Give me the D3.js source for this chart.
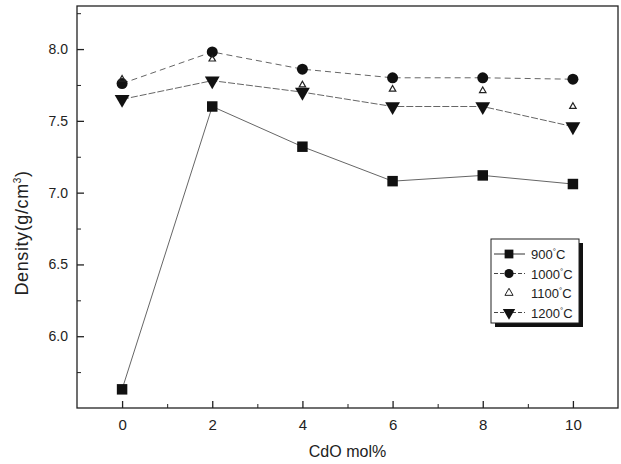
<!DOCTYPE html>
<html lang="en">
<head>
<meta charset="UTF-8">
<title>Density vs CdO mol%</title>
<style>
    body { margin: 0; padding: 0; background: #fff; }
    svg { display: block; }
    text { font-family: Arial, "Liberation Sans", sans-serif; fill: #222; }
</style>
</head>
<body>
<svg width="621" height="464"></svg>
<script src="https://d3js.org/d3.v7.min.js"></script>
<script>
    // CdO content (mol%)
    const cdo = [0, 2, 4, 6, 8, 10];

    // density values per sintering temperature (g/cm3)
    const d900 = [5.63, 7.60, 7.32, 7.08, 7.12, 7.06];
    const d1000 = [7.76, 7.98, 7.86, 7.80, 7.80, 7.79];
    const d1100 = [7.79, 7.93, 7.75, 7.72, 7.71, 7.60];
    const d1200 = [7.65, 7.78, 7.70, 7.60, 7.60, 7.46];

    const seriesNames = ["900°C", "1000°C", "1100°C", "1200°C"];
    const xTicks = [0, 2, 4, 6, 8, 10];
    const yTicks = [6.0, 6.5, 7.0, 7.5, 8.0];

    const svg = d3.select("svg");
    const pLeft = 77, pRight = 618, pTop = 6, pBottom = 408;

    const x = d3.scaleLinear().domain([-1, 11]).range([pLeft, pRight]);
    const y = d3.scaleLinear().domain([5.5, 8.3]).range([pBottom, pTop]);

    // series styling
    const series = [
        { name: seriesNames[0], values: d900, symbol: d3.symbolSquare, size: 110, dash: null, line: true },
        { name: seriesNames[1], values: d1000, symbol: d3.symbolCircle, size: 95, dash: "6,4", line: true },
        { name: seriesNames[2], values: d1100, symbol: d3.symbolTriangle, size: 18, dash: null, line: false },
        { name: seriesNames[3], values: d1200, symbol: d3.symbolTriangle, size: 95, dash: "7,2", line: true, flip: true }
    ];

    // frame
    svg.append("rect")
        .attr("x", pLeft).attr("y", pTop)
        .attr("width", pRight - pLeft).attr("height", pBottom - pTop)
        .attr("fill", "none").attr("stroke", "#222").attr("stroke-width", 1.3);

    // axes with inward ticks
    const xAxis = d3.axisBottom(x).tickValues(xTicks).tickSize(-7).tickPadding(11).tickFormat(d3.format("d"));
    const gx = svg.append("g").attr("transform", `translate(0,${pBottom})`).call(xAxis);
    gx.select(".domain").remove();
    gx.selectAll("text").attr("font-size", 15).attr("font-family", "Arial, sans-serif").attr("fill", "#222");
    gx.selectAll("line").attr("stroke", "#222").attr("stroke-width", 1.3);

    const xMinor = d3.axisBottom(x).tickValues([1, 3, 5, 7, 9]).tickSize(-4).tickFormat("");
    const gxm = svg.append("g").attr("transform", `translate(0,${pBottom})`).call(xMinor);
    gxm.select(".domain").remove();
    gxm.selectAll("line").attr("stroke", "#222");

    const yAxis = d3.axisLeft(y).tickValues(yTicks).tickSize(-7).tickPadding(9).tickFormat(d3.format(".1f"));
    const gy = svg.append("g").attr("transform", `translate(${pLeft},0)`).call(yAxis);
    gy.select(".domain").remove();
    gy.selectAll("text").attr("font-size", 14).attr("font-family", "Arial, sans-serif").attr("fill", "#222");
    gy.selectAll("line").attr("stroke", "#222").attr("stroke-width", 1.3);

    const yMinor = d3.axisLeft(y).tickValues([5.75, 6.25, 6.75, 7.25, 7.75, 8.25]).tickSize(-4).tickFormat("");
    const gym = svg.append("g").attr("transform", `translate(${pLeft},0)`).call(yMinor);
    gym.select(".domain").remove();
    gym.selectAll("line").attr("stroke", "#222");

    // axis titles
    svg.append("text")
        .attr("x", (pLeft + pRight) / 2).attr("y", 457)
        .attr("text-anchor", "middle").attr("font-size", 16)
        .text("CdO mol%");

    const yl = svg.append("text")
        .attr("transform", "translate(28,233) rotate(-90)")
        .attr("text-anchor", "middle").attr("font-size", 18)
        .attr("letter-spacing", 0.6);
    yl.append("tspan").text("Density(g/cm");
    yl.append("tspan").attr("dy", -7).attr("font-size", 10).text("3");
    yl.append("tspan").attr("dy", 7).text(")");

    // lines and markers
    const lineGen = d3.line().x((d, i) => x(cdo[i])).y(d => y(d));

    series.forEach(s => {
        if (s.line) {
            svg.append("path")
                .datum(s.values)
                .attr("d", lineGen)
                .attr("fill", "none")
                .attr("stroke", "#666")
                .attr("stroke-width", 1)
                .attr("stroke-dasharray", s.dash);
        }
        svg.selectAll(null)
            .data(s.values)
            .enter()
            .append("path")
            .attr("d", d3.symbol().type(s.symbol).size(s.size))
            .attr("transform", (d, i) => `translate(${x(cdo[i])},${y(d)})` + (s.flip ? " rotate(180)" : ""))
            .attr("fill", s.line ? "#111" : "none")
            .attr("stroke", s.line ? "none" : "#222")
            .attr("stroke-width", 1.2);
    });

    // legend
    const lgX = 491, lgY = 239, lgW = 88, lgH = 84;
    svg.append("rect")
        .attr("x", lgX + 4).attr("y", lgY + 4)
        .attr("width", lgW).attr("height", lgH)
        .attr("fill", "#111");
    svg.append("rect")
        .attr("x", lgX).attr("y", lgY)
        .attr("width", lgW).attr("height", lgH)
        .attr("fill", "#fff").attr("stroke", "#222").attr("stroke-width", 1);

    series.forEach((s, i) => {
        const ry = lgY + 15 + i * 19.5;
        if (s.line) {
            svg.append("line")
                .attr("x1", lgX + 3).attr("x2", lgX + 34)
                .attr("y1", ry).attr("y2", ry)
                .attr("stroke", "#444").attr("stroke-width", 1.1)
                .attr("stroke-dasharray", s.dash ? "4,2" : null);
        }
        svg.append("path")
            .attr("d", d3.symbol().type(s.symbol).size(s.line ? s.size * 0.7 : s.size * 1.6))
            .attr("transform", `translate(${lgX + 18},${ry})` + (s.flip ? " rotate(180)" : ""))
            .attr("fill", s.line ? "#111" : "none")
            .attr("stroke", s.line ? "none" : "#222");
        const t = svg.append("text")
            .attr("x", lgX + 40).attr("y", ry + 5)
            .attr("font-size", 13);
        t.append("tspan").text(s.name.replace("°C", ""));
        t.append("tspan").attr("dy", -5).attr("font-size", 8).text("°");
        t.append("tspan").attr("dy", 5).text("C");
    });
</script>
</body>
</html>
